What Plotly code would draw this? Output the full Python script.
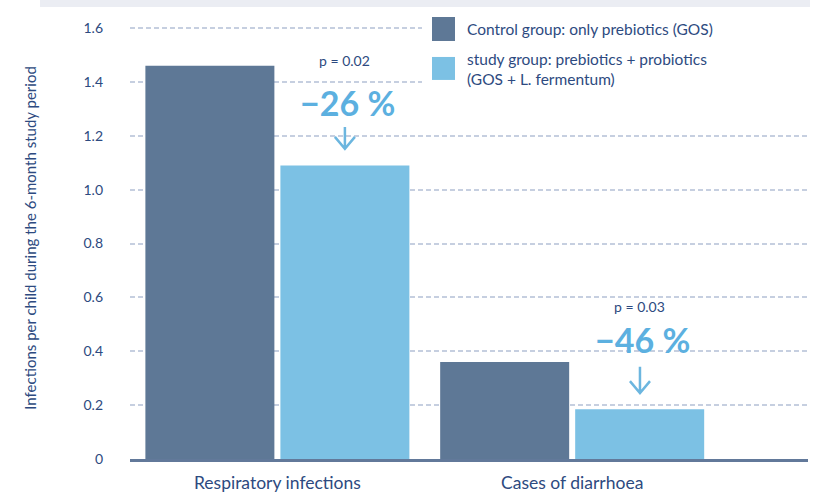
import plotly.graph_objects as go

categories = ["Respiratory infections", "Cases of diarrhoea"]
series_names = ["Control group: only prebiotics (GOS)",
                "study group: prebiotics + probiotics<br>(GOS + L. fermentum)"]
control_values = [1.46, 0.36]
study_values = [1.09, 0.185]
p_labels = ["p = 0.02", "p = 0.03"]
change_labels = ["\u221226 %", "\u221246 %"]
y_tickvals = [0, 0.2, 0.4, 0.6, 0.8, 1.0, 1.2, 1.4, 1.6]
y_ticktext = ["0", "0.2", "0.4", "0.6", "0.8", "1.0", "1.2", "1.4", "1.6"]
y_title = "Infections per child during the 6-month study period"

DARK = "#2d4a80"
CTRL = "#5e7896"
STUDY = "#7cc1e4"
ACCENT = "#5cb0e0"
ARROW = "#6cb6df"
FONT = "Lato, Open Sans, sans-serif"

W = 0.4376
G = 0.0102

PT, PH = 23.0, 436.5   # plot top / height in px
PL, PW = 130.0, 678.0

def py(px):
    return (PT + PH - px) / PH

def pxx(px):
    return (px - PL) / PW

fig = go.Figure()
fig.add_trace(go.Bar(x=categories, y=control_values, name=series_names[0],
                     marker=dict(color=CTRL, line=dict(width=0)),
                     width=W, offset=-G - W, showlegend=False))
fig.add_trace(go.Bar(x=categories, y=study_values, name=series_names[1],
                     marker=dict(color=STUDY, line=dict(width=0)),
                     width=W, offset=G, showlegend=False))

shapes = []
# top gray band
shapes.append(dict(type="rect", xref="paper", yref="paper",
                   x0=pxx(40), x1=pxx(810), y0=py(7), y1=py(-2),
                   fillcolor="#ebedf3", line=dict(width=0), layer="above"))
# white background for custom legend
shapes.append(dict(type="rect", xref="paper", yref="paper",
                   x0=pxx(422), x1=1.0, y0=py(92), y1=py(10),
                   fillcolor="white", line=dict(width=0), layer="above"))
# legend squares
for (top, bot, col) in [(17, 41, CTRL), (57, 80, STUDY)]:
    shapes.append(dict(type="rect", xref="paper", yref="paper",
                       x0=pxx(432), x1=pxx(455), y0=py(bot), y1=py(top),
                       fillcolor=col, line=dict(width=0), layer="above"))

# arrows (x in category index units, y in data units)
arrow_specs = [(0.229, 1.233, 1.152), (1.230, 0.343, 0.245)]
dx, dy = 0.034, 0.044
for (xc, ytop, ytip) in arrow_specs:
    path = (f"M {xc},{ytop} L {xc},{ytip} "
            f"M {xc - dx},{ytip + dy} L {xc},{ytip} L {xc + dx},{ytip + dy}")
    shapes.append(dict(type="path", xref="x", yref="y", path=path,
                       line=dict(color=ARROW, width=2.5), layer="above"))

annotations = []
annotations.append(dict(xref="paper", yref="paper", x=pxx(465),
                        y=py(29), xanchor="left", yanchor="middle",
                        text=series_names[0], showarrow=False,
                        font=dict(family=FONT, size=15.5, color=DARK)))
annotations.append(dict(xref="paper", yref="paper", x=pxx(465),
                        y=py(69), xanchor="left", yanchor="middle",
                        text=series_names[1], showarrow=False, align="left",
                        font=dict(family=FONT, size=15.5, color=DARK)))
# y-axis title
annotations.append(dict(xref="paper", yref="paper", x=pxx(30), y=py(238),
                        xanchor="center", yanchor="middle", textangle=-90,
                        text=y_title, showarrow=False,
                        font=dict(family=FONT, size=15, color=DARK)))
p_pos = [(0.229, 1.478), (1.230, 0.568)]
c_pos = [(0.238, 1.322), (1.238, 0.443)]
for i in range(2):
    annotations.append(dict(x=p_pos[i][0], y=p_pos[i][1], xref="x", yref="y",
                            text=p_labels[i], showarrow=False,
                            font=dict(family=FONT, size=14, color=DARK)))
    annotations.append(dict(x=c_pos[i][0], y=c_pos[i][1], xref="x", yref="y",
                            text="<b>" + change_labels[i] + "</b>", showarrow=False,
                            font=dict(family=FONT, size=34, color=ACCENT)))

fig.update_layout(
    width=818, height=493,
    margin=dict(l=PL, r=818 - PL - PW, t=PT, b=493 - PT - PH, autoexpand=False),
    paper_bgcolor="white", plot_bgcolor="white",
    shapes=shapes, annotations=annotations,
    font=dict(family=FONT, color=DARK),
    xaxis=dict(type="category", range=[-0.5, 1.8], showgrid=False,
               showline=True, linecolor="#62799a", linewidth=3,
               ticks="", tickfont=dict(family=FONT, size=17.5, color=DARK),
               ticklabelstandoff=6, zeroline=False, automargin=False),
    yaxis=dict(range=[0, 1.619], tickvals=y_tickvals, ticktext=y_ticktext,
               showgrid=True, gridcolor="#c6cfe0", gridwidth=1.5,
               griddash="5px,3px", zeroline=False, showline=False, ticks="",
               tickfont=dict(family=FONT, size=14, color=DARK),
               ticklabelstandoff=26, automargin=False),
)

fig.write_html("out.html",
               config={"displayModeBar": False},
               post_script="document.body.style.margin='0px';"
                           "document.body.style.overflow='hidden';")
